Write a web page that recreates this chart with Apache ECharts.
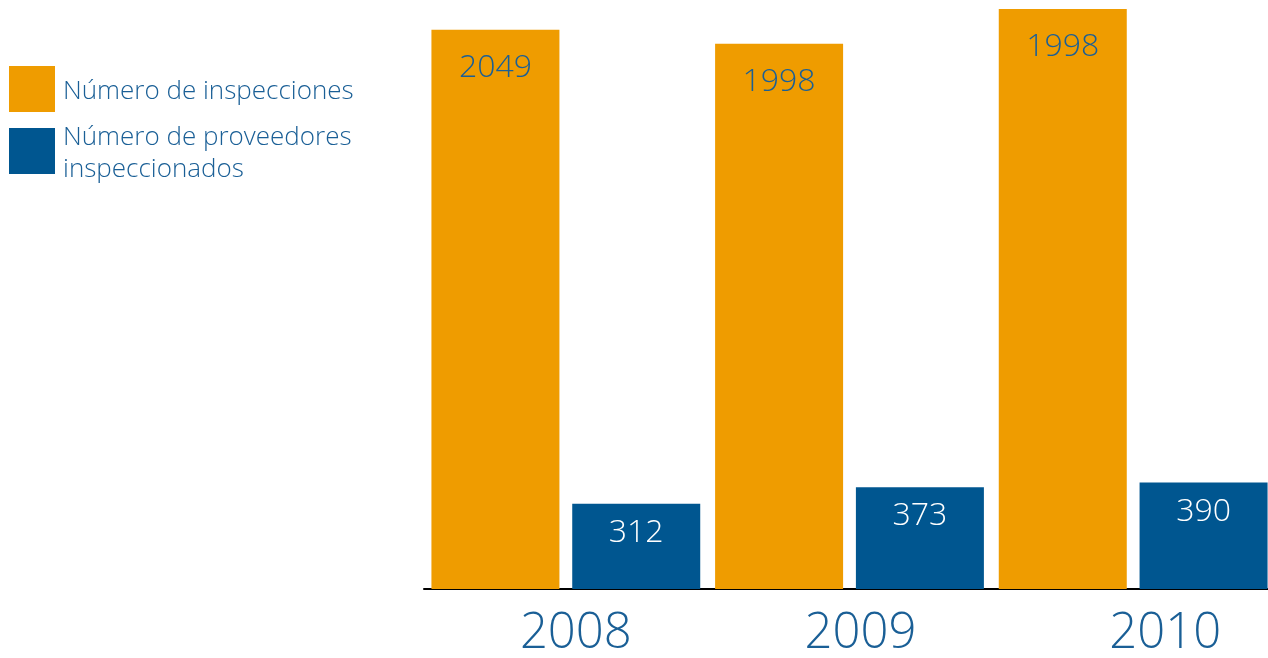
<!DOCTYPE html>
<html>
<head>
<meta charset="utf-8">
<script src="https://cdn.jsdelivr.net/npm/echarts@6/dist/echarts.min.js"></script>
<style>html,body{margin:0;padding:0;background:#fff;}#c{width:1268px;height:658px;}</style>
</head>
<body>
<div id="c"></div>
<script>
const years = ['2008', '2009', '2010'];
// bar heights as drawn in the picture (the 2010 orange bar is drawn taller than its printed value)
const inspecciones = [2049, 1998, 2125];
const inspeccionesEtiquetas = ['2049', '1998', '1998'];
const proveedores = [312, 373, 390];
const seriesNames = ['Número de inspecciones', 'Número de proveedores inspeccionados'];
const legendLines = [['Número de inspecciones'], ['Número de proveedores', 'inspeccionados']];

const ORANGE = '#EF9C00';
const BLUE = '#005690';
const TEXT_BLUE = '#1a5f96';
const FONT = '"Open Sans", "Noto Sans", sans-serif';

const chart = echarts.init(document.getElementById('c'));
chart.setOption({
  animation: false,
  backgroundColor: '#fff',
  textStyle: { fontFamily: FONT },
  legend: {
    orient: 'vertical',
    left: 9,
    top: 66,
    padding: 0,
    itemWidth: 46,
    itemHeight: 46,
    itemGap: 9,
    icon: 'rect',
    data: seriesNames,
    formatter: function (name) {
      return legendLines[seriesNames.indexOf(name)].map(function (l) { return '{t|' + l + '}'; }).join('\n');
    },
    textStyle: {
      fontFamily: FONT, fontSize: 26, fontWeight: 300, color: TEXT_BLUE,
      rich: { t: { fontFamily: FONT, fontSize: 26, fontWeight: 300, color: TEXT_BLUE, lineHeight: 32, padding: [4, 0, 0, 3], verticalAlign: 'bottom' } }
    }
  },
  grid: { left: 424, width: 851, top: 0, bottom: 69, containLabel: false, outerBoundsMode: 'none' },
  xAxis: {
    type: 'category',
    data: years,
    axisTick: { show: false },
    axisLine: { show: true, lineStyle: { color: '#000', width: 2 } },
    axisLabel: {
      margin: 21,
      formatter: function (v, i) { return '{y' + i + '|' + v + '}'; },
      rich: {
        y0: { fontFamily: FONT, fontSize: 49, fontWeight: 300, color: TEXT_BLUE, padding: [0, 0, 0, 20] },
        y1: { fontFamily: FONT, fontSize: 49, fontWeight: 300, color: TEXT_BLUE, padding: [0, 0, 0, 22] },
        y2: { fontFamily: FONT, fontSize: 49, fontWeight: 300, color: TEXT_BLUE, padding: [0, 0, 0, 64] }
      }
    }
  },
  yAxis: { type: 'value', min: 0, max: 2158, show: false, splitLine: { show: false } },
  series: [
    {
      name: seriesNames[0],
      type: 'bar',
      data: inspecciones,
      barWidth: 128,
      barGap: '10%',
      itemStyle: { color: ORANGE },
      label: {
        show: true, position: 'insideTop', distance: 22,
        formatter: function (p) { return inspeccionesEtiquetas[p.dataIndex]; },
        fontFamily: FONT, fontSize: 32, fontWeight: 300, color: TEXT_BLUE
      }
    },
    {
      name: seriesNames[1],
      type: 'bar',
      data: proveedores,
      barWidth: 128,
      barGap: '10%',
      itemStyle: { color: BLUE },
      label: {
        show: true, position: 'insideTop', distance: 13,
        fontFamily: FONT, fontSize: 32, fontWeight: 300, color: '#fff'
      }
    }
  ]
});
</script>
</body>
</html>
